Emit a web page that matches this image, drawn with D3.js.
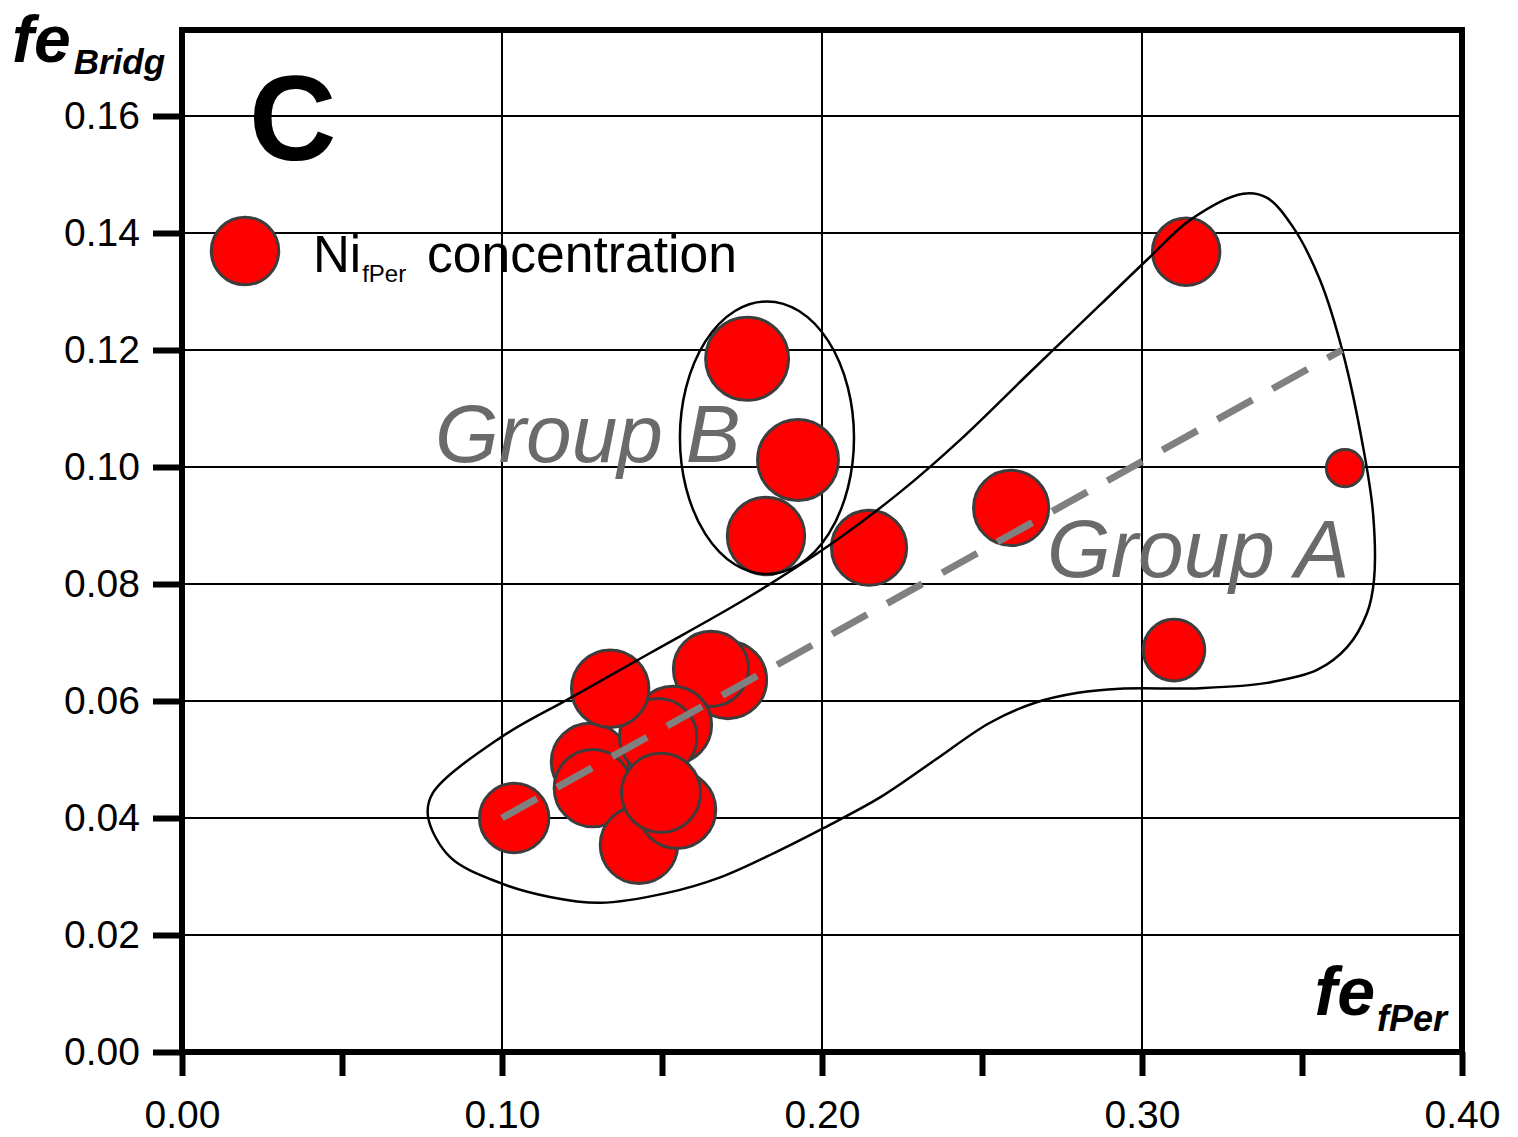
<!DOCTYPE html>
<html>
<head>
<meta charset="utf-8">
<script src="https://cdn.jsdelivr.net/npm/d3@7/dist/d3.min.js"></script>
<style>
  html, body { margin: 0; padding: 0; background: #fff; }
  svg { display: block; font-family: "Liberation Sans", Arial, sans-serif; }
</style>
</head>
<body>
<svg id="chart" width="1518" height="1137"></svg>
<script>
// ---------------- data ----------------
// fe in ferropericlase (x), fe in bridgmanite (y), Ni concentration (relative bubble size)
const feFPer = [0.1275, 0.1706, 0.1653, 0.1534, 0.1488, 0.1338, 0.1284, 0.1428, 0.1547, 0.1497,
                0.1038, 0.1766, 0.1925, 0.1825, 0.2147, 0.2591, 0.3138, 0.3634, 0.3100];
const feBridg = [0.0496, 0.0636, 0.0655, 0.0559, 0.0538, 0.0621, 0.0451, 0.0354, 0.0414, 0.0443,
                 0.0400, 0.1185, 0.1012, 0.0882, 0.0862, 0.0930, 0.1368, 0.0998, 0.0687];
const niConc = [0.87, 0.87, 0.82, 0.87, 0.87, 0.87, 0.87, 0.87, 0.87, 0.91,
                0.70, 1.00, 0.95, 0.87, 0.82, 0.82, 0.66, 0.20, 0.55];
const legendNi = 0.66;

const xTicks = [0, 0.05, 0.10, 0.15, 0.20, 0.25, 0.30, 0.35, 0.40];
const xLabelTicks = [0, 0.10, 0.20, 0.30, 0.40];
const yTicks = [0, 0.02, 0.04, 0.06, 0.08, 0.10, 0.12, 0.14, 0.16];
const xGrid = [0.10, 0.20, 0.30];
const yGrid = [0.02, 0.04, 0.06, 0.08, 0.10, 0.12, 0.14, 0.16];

// trend line (Group A) endpoints
const trendX = [0.100, 0.3625];
const trendY = [0.040, 0.1200];

// Group A envelope outline
const envX = [0.0769, 0.0784, 0.0994, 0.1213, 0.1463, 0.1766, 0.2025, 0.2244, 0.2431, 0.2650,
              0.2869, 0.3025, 0.3150, 0.3316, 0.3391, 0.3472, 0.3556, 0.3628, 0.3691,
              0.3722, 0.3725, 0.3703, 0.3641, 0.3547, 0.3391, 0.3181, 0.2931, 0.2800, 0.2666,
              0.2522, 0.2353, 0.2184, 0.2006, 0.1850, 0.1684, 0.1516, 0.1306, 0.1150, 0.0994, 0.0838];
const envY = [0.0402, 0.0443, 0.0537, 0.0605, 0.0682, 0.0776, 0.0867, 0.0957, 0.1046, 0.1162,
              0.1277, 0.1359, 0.1422, 0.1467, 0.1460, 0.1410, 0.1320, 0.1195, 0.1034,
              0.0921, 0.0807, 0.0750, 0.0692, 0.0653, 0.0631, 0.0622, 0.0621, 0.0614, 0.0597,
              0.0562, 0.0499, 0.0436, 0.0383, 0.0340, 0.0299, 0.0272, 0.0255, 0.0265, 0.0289, 0.0333];

// Group B ellipse: center and semi-axes (data units)
const ellB = { cx: 0.1828, cy: 0.1050, rx: 0.0272, ry: 0.0233 };

// ---------------- drawing ----------------
const svg = d3.select("#chart");
const W = 1518, H = 1137;
svg.append("rect").attr("width", W).attr("height", H).attr("fill", "#fff");

const x = d3.scaleLinear().domain([0, 0.4]).range([182, 1462]);
const y = d3.scaleLinear().domain([0, 0.1747]).range([1052, 30]);
const r = d3.scaleSqrt().domain([0, 1]).range([0, 41.5]);

// grid
const grid = svg.append("g");
grid.selectAll("line.v").data(xGrid).join("line")
  .attr("x1", d => x(d)).attr("x2", d => x(d))
  .attr("y1", y.range()[1]).attr("y2", y.range()[0])
  .attr("stroke", "#000").attr("stroke-width", 2);
grid.selectAll("line.h").data(yGrid).join("line")
  .attr("x1", x.range()[0]).attr("x2", x.range()[1])
  .attr("y1", d => y(d)).attr("y2", d => y(d))
  .attr("stroke", "#000").attr("stroke-width", 2);

// bubbles
const pts = feFPer.map((v, i) => ({ x: v, y: feBridg[i], ni: niConc[i] }));
svg.append("g").selectAll("circle").data(pts).join("circle")
  .attr("cx", d => x(d.x)).attr("cy", d => y(d.y)).attr("r", d => r(d.ni))
  .attr("fill", "#ff0000").attr("stroke", "#3d3d3d").attr("stroke-width", 3);

// Group A envelope
const envPts = envX.map((v, i) => [x(v), y(envY[i])]);
svg.append("path")
  .attr("d", d3.line().curve(d3.curveCatmullRomClosed.alpha(0.5))(envPts))
  .attr("fill", "none").attr("stroke", "#000").attr("stroke-width", 2.5);

// Group B ellipse
svg.append("ellipse")
  .attr("cx", x(ellB.cx)).attr("cy", y(ellB.cy))
  .attr("rx", x(ellB.cx + ellB.rx) - x(ellB.cx))
  .attr("ry", y(ellB.cy) - y(ellB.cy + ellB.ry))
  .attr("fill", "none").attr("stroke", "#000").attr("stroke-width", 2.5);

// trend line
svg.append("line")
  .attr("x1", x(trendX[0])).attr("y1", y(trendY[0]))
  .attr("x2", x(trendX[1])).attr("y2", y(trendY[1]))
  .attr("stroke", "#808080").attr("stroke-width", 7)
  .attr("stroke-dasharray", "40 23");

// group labels
svg.append("text").attr("x", 435).attr("y", 462)
  .attr("font-size", 82).attr("font-style", "italic").attr("fill", "#6a6a6a")
  .text("Group B");
svg.append("text").attr("x", 1047).attr("y", 577)
  .attr("font-size", 82).attr("font-style", "italic").attr("fill", "#6a6a6a")
  .text("Group A");

// panel letter
svg.append("text").attr("x", 249).attr("y", 160)
  .attr("font-size", 121).attr("font-weight", "bold").attr("fill", "#000")
  .text("C");

// legend
svg.append("circle").attr("cx", 245).attr("cy", 251).attr("r", r(legendNi))
  .attr("fill", "#ff0000").attr("stroke", "#3d3d3d").attr("stroke-width", 3);
const lg = svg.append("text").attr("x", 313).attr("y", 272).attr("font-size", 51).attr("fill", "#000");
lg.append("tspan").text("Ni");
lg.append("tspan").attr("font-size", 24).attr("dy", 10).attr("dx", 1).text("fPer");
svg.append("text").attr("x", 427).attr("y", 272).attr("font-size", 51).attr("fill", "#000")
  .attr("textLength", 310).attr("lengthAdjust", "spacingAndGlyphs")
  .text("concentration");

// axes
const yAxis = d3.axisLeft(y).tickValues(yTicks).tickFormat(d3.format(".2f"))
  .tickSize(29).tickPadding(13).tickSizeOuter(0);
const gy = svg.append("g").attr("transform", `translate(${x.range()[0]},0)`).call(yAxis);
const xAxis = d3.axisBottom(x).tickValues(xTicks)
  .tickFormat(d => xLabelTicks.some(t => Math.abs(t - d) < 1e-9) ? d3.format(".2f")(d) : "")
  .tickSize(24).tickPadding(24).tickSizeOuter(0);
const gx = svg.append("g").attr("transform", `translate(0,${y.range()[0]})`).call(xAxis);
[gx, gy].forEach(g => {
  g.select(".domain").remove();
  g.selectAll(".tick line").attr("stroke", "#000").attr("stroke-width", 6);
  g.selectAll(".tick text").attr("fill", "#000").attr("font-size", 39)
    .attr("font-family", "Liberation Sans, Arial, sans-serif");
});

// frame
svg.append("rect")
  .attr("x", x.range()[0]).attr("y", y.range()[1])
  .attr("width", x.range()[1] - x.range()[0]).attr("height", y.range()[0] - y.range()[1])
  .attr("fill", "none").attr("stroke", "#000").attr("stroke-width", 6);

// axis titles
const ty = svg.append("text").attr("x", 12).attr("y", 62)
  .attr("font-weight", "bold").attr("font-style", "italic").attr("fill", "#000");
ty.append("tspan").attr("font-size", 66).text("fe");
ty.append("tspan").attr("font-size", 35).attr("dy", 12).attr("dx", 3).text("Bridg");

const tx = svg.append("text").attr("x", 1447).attr("y", 1015).attr("text-anchor", "end")
  .attr("font-weight", "bold").attr("font-style", "italic").attr("fill", "#000");
tx.append("tspan").attr("font-size", 68).text("fe");
tx.append("tspan").attr("font-size", 36).attr("dy", 16).attr("dx", 2).text("fPer");
</script>
</body>
</html>
